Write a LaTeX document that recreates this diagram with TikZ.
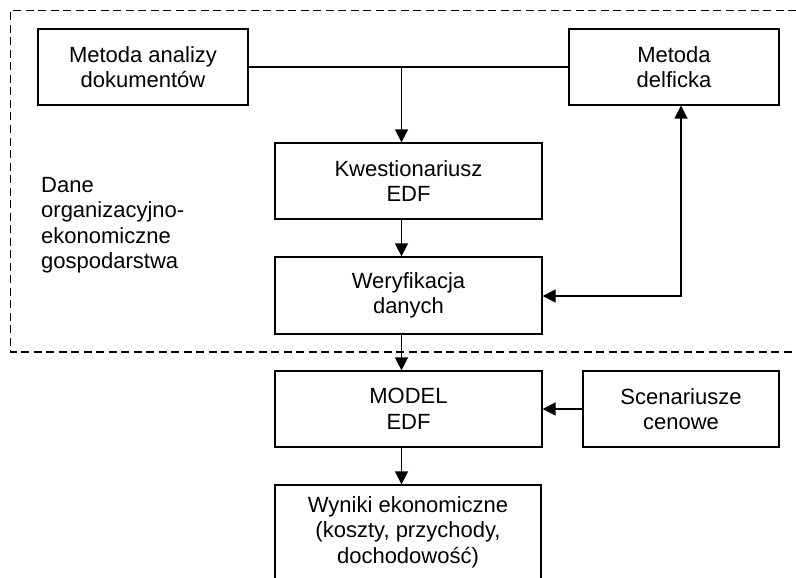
\documentclass[tikz,border=0pt]{standalone}
\usepackage{fontspec}
\setmainfont{Liberation Sans}
\usetikzlibrary{arrows.meta,calc}
\begin{document}
\begin{tikzpicture}[x=1pt,y=-1pt,
  box/.style={draw=black,line width=1.3pt,rectangle,align=center,inner sep=0pt,
    font=\fontsize{22}{25.5}\selectfont},
  conn/.style={line width=1.6pt},
  arr/.style={conn,-{Triangle[width=13pt,length=13pt]}},
  darr/.style={conn,{Triangle[width=13pt,length=13pt]}-{Triangle[width=13pt,length=13pt]}},
  frame/.style={line width=1.3pt,dash pattern=on 8pt off 4.5pt}]
\useasboundingbox (0,0) rectangle (796,578);
\clip (0,0) rectangle (796,578);
\fill[white] (0,0) rectangle (796,578);
% dashed frame
\draw[frame] (796,10.5) -- (10.5,10.5) -- (10.5,352) -- (796,352);
% boxes
\node[box,minimum width=210pt,minimum height=76pt] (a) at (143,67) {Metoda analizy\\dokumentów};
\node[box,minimum width=210pt,minimum height=76pt] (b) at (674,67) {Metoda\\delficka};
\node[box,minimum width=267pt,minimum height=76pt] (k) at (408.5,181) {Kwestionariusz\\EDF};
\node[box,minimum width=267pt,minimum height=77pt] (w) at (408.5,295.5) {Weryfikacja\\danych};
\node[box,minimum width=267pt,minimum height=76pt] (m) at (408.5,409) {MODEL\\EDF};
\node[box,minimum width=196pt,minimum height=76pt] (s) at (681,409) {Scenariusze\\cenowe};
\node[box,minimum width=266pt,minimum height=120pt] (y) at (408,545) {};
\node[font=\fontsize{22}{25.5}\selectfont,align=center,anchor=north,inner sep=0pt] (yt) at (408,496) {Wyniki ekonomiczne\\(koszty, przychody,\\dochodowość)};
% side label
\node[font=\fontsize{22}{25.5}\selectfont,align=left,anchor=north west,inner sep=0pt] (d) at (41,177) {Dane\\organizacyjno-\\ekonomiczne\\gospodarstwa};
% connectors
\coordinate (j) at (401.5,67);
\draw[conn] (a.east) -- (b.west);
\draw[arr] (j) -- (j |- k.north);
\draw[arr] (j |- k.south) -- (j |- w.north);
\draw[arr] (j |- w.south) -- (j |- m.north);
\draw[arr] (j |- m.south) -- (j |- y.north);
\coordinate (r) at (681,296);
\draw[darr] (b.south -| r) -- (r) -- (w.east |- r);
\draw[arr] (s.west) -- (m.east);
\end{tikzpicture}
\end{document}
